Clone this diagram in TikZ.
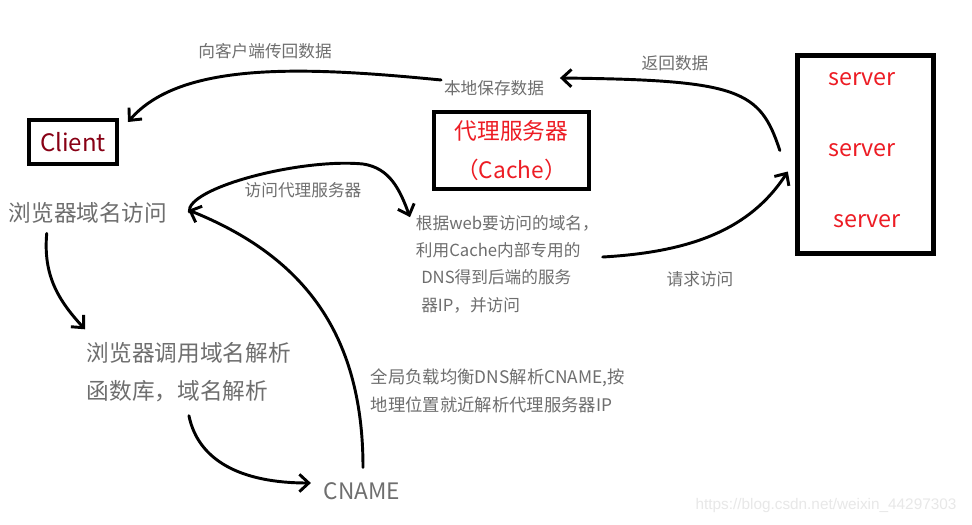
\documentclass[tikz,border=0pt]{standalone}
\usepackage{fontspec}
\setmainfont{Noto Sans CJK SC}
\newfontfamily\wmfont{Liberation Sans}
\usetikzlibrary{arrows.meta,positioning,calc}
\definecolor{darkred}{RGB}{136,0,21}
\definecolor{paintred}{RGB}{237,28,36}
\definecolor{txtgray}{RGB}{110,110,110}
\definecolor{wmgray}{RGB}{232,232,232}

\begin{document}
\begin{tikzpicture}[
  x=0.75pt, y=-0.75pt,
  every node/.style={inner sep=2pt},
  box/.style    ={rectangle, draw, line width=3pt, align=center},
  big/.style    ={text=txtgray, font=\fontsize{17}{28.5}\selectfont, align=left},
  small/.style  ={text=txtgray, font=\fontsize{12.5}{20.5}\selectfont, align=left},
  srvtext/.style={text=paintred, font=\fontsize{17.5}{21}\selectfont},
  wm/.style     ={text=wmgray, font=\wmfont\fontsize{11.5}{14}\selectfont},
  flow/.style   ={-{Straight Barb[length=7pt,width=13pt]}, line width=2.2pt, line cap=round}
]
\useasboundingbox[fill=white] (0,0) rectangle (972,525);

% boxes
\node[box, minimum width=66pt, minimum height=33pt, text=darkred,
      font=\fontsize{18}{22}\selectfont] (client) at (73,142) {Client};
\node[box, minimum width=116pt, minimum height=58pt, text=paintred,
      font=\fontsize{17}{29}\selectfont] (cache) at (511.5,150.5) {代理服务器\\（Cache）};
\node[box, line width=4pt, minimum width=102pt, minimum height=148.5pt] (srv) at (865.5,154.5) {};
\node[srvtext] (s1) at (862,79)  {server};
\node[srvtext] (s2) at (862,150) {server};
\node[srvtext] (s3) at (867,221) {server};

% steps
\node[big] (browse) at (88,213) {浏览器域名访问};
\node[big, anchor=west] (lib) at (84,372) {浏览器调用域名解析\\函数库，域名解析};
\node[big] (cname) at (362,491) {CNAME};
\node[small, font=\fontsize{13}{21}\selectfont, anchor=west] (gslb) at (368,391)
  {全局负载均衡DNS解析CNAME,按\\地理位置就近解析代理服务器IP};
\node[small, anchor=west] (rule) at (413,264)
  {根据web要访问的域名，\\利用Cache内部专用的\\\hspace{4pt}DNS得到后端的服务\\\hspace{4pt}器IP，并访问};

% arrow labels
\node[small] (back)  at (265,51)  {向客户端传回数据};
\node[small] (save)  at (494,88)  {本地保存数据};
\node[small] (ret)   at (675,63)  {返回数据};
\node[small] (visit) at (303,190) {访问代理服务器};
\node[small] (req)   at (700,279) {请求访问};
\node[wm] (mark) at (826,506) {https://blog.csdn.net/weixin\_44297303};

% connectors
\draw[flow] ($(save.west)+(0,-8)$) .. controls (300,66) and (180,62) .. ($(client.north east)+(9,4)$);
\draw[flow] ($(srv.west)+(-15,-4)$) .. controls (760,90) and (740,80) .. ($(save.east)+(13,-10)$);
\draw[flow] ($(rule.east)+(1,-7)$) .. controls (690,252) and (750,230) .. ($(srv.west)+(-7,17)$);
\draw[flow] ($(browse.east)+(19,-1)$) .. controls (186,188) and (300,158) .. (363,164)
            .. controls (390,168) and (400,190) .. ($(rule.north west)+(-3,5)$);
\draw[flow] ($(cname.north)+(1,-12)$) .. controls (363,330) and (300,255) .. ($(browse.east)+(18,-3)$);
\draw[flow] ($(browse.south west)+(41,7)$) .. controls (43,275) and (58,300) .. ($(lib.north west)+(1,-10)$);
\draw[flow] ($(lib.south)+(0,11)$) .. controls (198,460) and (240,483) .. ($(cname.west)+(-10,-8)$);
\end{tikzpicture}
\end{document}
